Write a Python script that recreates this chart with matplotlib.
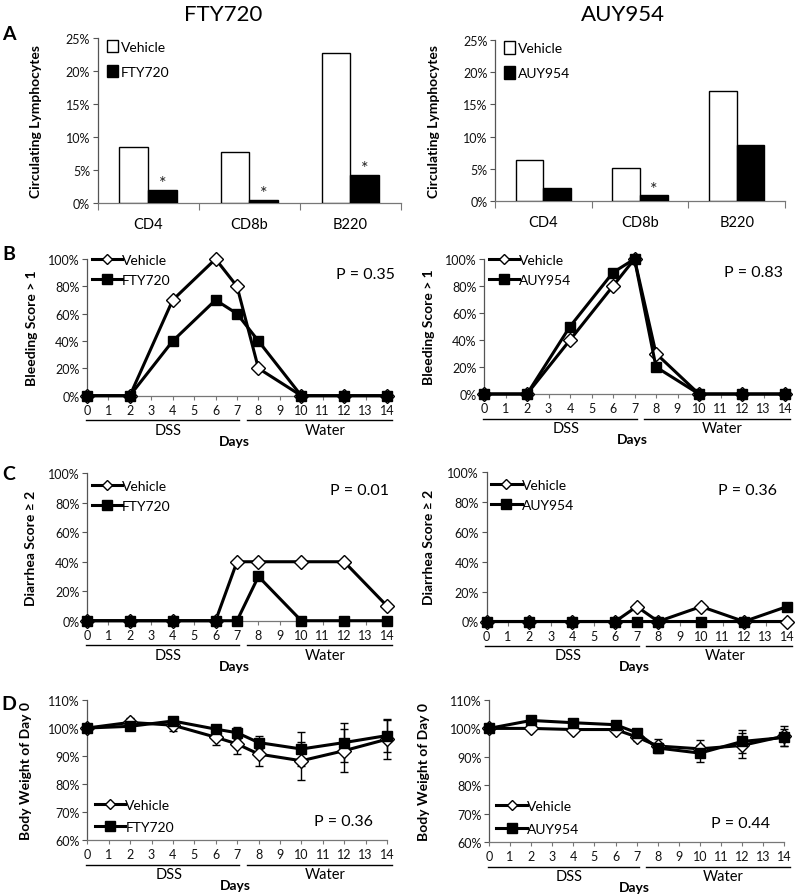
import matplotlib
matplotlib.use('Agg')
import matplotlib.pyplot as plt
from matplotlib.lines import Line2D
from matplotlib.patches import Patch
from matplotlib.ticker import FuncFormatter, FixedLocator
from matplotlib.transforms import blended_transform_factory

plt.rcParams['font.family'] = ['Lato', 'DejaVu Sans']

W, H, DPI = 797, 895, 100

# ---------------- data ----------------
cell_types = ['CD4', 'CD8b', 'B220']
fty_vehicle_lymph = [8.6, 7.8, 22.8]
fty_drug_lymph = [2.0, 0.5, 4.3]
fty_sig = [True, True, True]
auy_vehicle_lymph = [6.4, 5.2, 17.0]
auy_drug_lymph = [2.1, 0.9, 8.7]
auy_sig = [False, True, False]

days = [0, 2, 4, 6, 7, 8, 10, 12, 14]
day_labels = [str(d) for d in range(15)]

fty_bleed_vehicle = [0, 0, 70, 100, 80, 20, 0, 0, 0]
fty_bleed_drug = [0, 0, 40, 70, 60, 40, 0, 0, 0]
auy_bleed_vehicle = [0, 0, 40, 80, 100, 30, 0, 0, 0]
auy_bleed_drug = [0, 0, 50, 90, 100, 20, 0, 0, 0]

fty_diar_vehicle = [0, 0, 0, 0, 40, 40, 40, 40, 10]
fty_diar_drug = [0, 0, 0, 0, 0, 30, 0, 0, 0]
auy_diar_vehicle = [0, 0, 0, 0, 10, 0, 10, 0, 0]
auy_diar_drug = [0, 0, 0, 0, 0, 0, 0, 0, 10]

fty_bw_vehicle = [100, 102, 101, 96.7, 94.3, 90.7, 88.3, 91.9, 96.0]
fty_bw_vehicle_err = [0.8, 1.5, 2.0, 2.7, 3.6, 4.2, 6.8, 7.7, 6.9]
fty_bw_drug = [100, 100.6, 102.5, 99.6, 98.3, 94.8, 92.5, 94.8, 97.3]
fty_bw_drug_err = [0.5, 0.6, 0.6, 1.0, 2.2, 2.4, 6.2, 7.0, 6.0]
auy_bw_vehicle = [100, 100, 99.6, 99.6, 97.0, 93.8, 92.8, 94.0, 97.3]
auy_bw_vehicle_err = [0.5, 0.5, 0.5, 1.0, 1.5, 2.5, 3.0, 4.4, 3.5]
auy_bw_drug = [100, 102.8, 102.0, 101.3, 98.5, 93.1, 91.3, 95.4, 96.8]
auy_bw_drug_err = [0.5, 0.6, 0.6, 0.8, 1.2, 1.5, 3.0, 4.0, 3.0]

p_bleed = ['0.35', '0.83']
p_diar = ['0.01', '0.36']
p_bw = ['0.36', '0.44']
drugs = ['FTY720', 'AUY954']

TICK_FS = 9.0
LAB_FS = 10.0
LEG_FS = 10.0

fig = plt.figure(figsize=(W / DPI, H / DPI), dpi=DPI)


def add_ax(l, t, r, b):
    return fig.add_axes([l / W, 1 - b / H, (r - l) / W, (b - t) / H])


def fx(px):
    return px / W


def fy(py):
    return 1 - py / H


pct = FuncFormatter(lambda v, p: f'{v:.0f}%')


def style_axes(ax):
    for s in ['top', 'right']:
        ax.spines[s].set_visible(False)
    ax.spines['left'].set_color('#555555')
    ax.spines['bottom'].set_color('#777777')
    ax.spines['left'].set_linewidth(0.9)
    ax.spines['bottom'].set_linewidth(0.9)
    ax.yaxis.set_major_formatter(pct)
    ax.tick_params(axis='y', direction='out', length=3.5, width=0.8,
                   labelsize=TICK_FS, colors='#555555', labelcolor='#111111', pad=2)


# ---------------- panel A ----------------
def bar_panel(ax, veh, drug, sig, name, ylab_x_px, left_px, width_px):
    x = list(range(len(cell_types)))
    bw = 0.285
    ax.bar([i - bw / 2 for i in x], veh, width=bw, color='white',
           edgecolor='black', linewidth=1.0, zorder=3)
    ax.bar([i + bw / 2 for i in x], drug, width=bw, color='black',
           edgecolor='black', linewidth=1.0, zorder=3)
    for i, s in enumerate(sig):
        if s:
            ax.text(i + bw / 2, drug[i] - 0.2, '*', ha='center', va='bottom',
                    fontsize=13, color='#222222')
    ax.set_xlim(-0.5, 2.5)
    ax.set_ylim(0, 25)
    ax.set_yticks([0, 5, 10, 15, 20, 25])
    ax.set_xticks(x)
    ax.set_xticklabels(cell_types, fontsize=10.5)
    ax.set_xticks([-0.5, 0.5, 1.5, 2.5], minor=True)
    ax.tick_params(axis='x', which='major', length=0, pad=10)
    ax.tick_params(axis='x', which='minor', length=5, width=0.8, colors='#777777',
                   direction='out')
    style_axes(ax)
    ax.set_ylabel('Circulating Lymphocytes', fontsize=LAB_FS, fontweight='bold')
    ax.yaxis.set_label_coords((ylab_x_px - left_px) / width_px, 0.5)
    handles = [Patch(facecolor='white', edgecolor='black', linewidth=1.0),
               Patch(facecolor='black', edgecolor='black')]
    ax.legend(handles, ['Vehicle', name], loc='upper left',
              bbox_to_anchor=(0.03, 0.99), frameon=False, fontsize=LEG_FS,
              handlelength=0.8, handleheight=1.0, handletextpad=0.2,
              labelspacing=0.85, borderaxespad=0, borderpad=0)


axA1 = add_ax(97.7, 39.3, 401, 204.3)
bar_panel(axA1, fty_vehicle_lymph, fty_drug_lymph, fty_sig, 'FTY720', 42, 97.7, 401 - 97.7)
axA2 = add_ax(495, 40.7, 785, 202.3)
bar_panel(axA2, auy_vehicle_lymph, auy_drug_lymph, auy_sig, 'AUY954', 440, 495, 785 - 495)


# ---------------- line panels ----------------
def line_panel(ax, yv, yd, name, ylim, yticks, ylabel, pval, p_xy_px,
               leg_anchor, leg_spacing, box, ylab_x_px, yv_err=None, yd_err=None):
    l, t, r, b = box
    hpx = b - t
    ekw = dict(ecolor='black', elinewidth=1.0, capsize=3, capthick=1.0)
    if yv_err is not None:
        ax.errorbar(days, yv, yerr=yv_err, fmt='none', zorder=2, clip_on=False, **ekw)
        ax.errorbar(days, yd, yerr=yd_err, fmt='none', zorder=2, clip_on=False, **ekw)
    ax.plot(days, yv, color='black', lw=2.2, marker='D', ms=6.8,
            mfc='white', mec='black', mew=1.0, zorder=4, clip_on=False)
    ax.plot(days, yd, color='black', lw=2.2, marker='s', ms=7.0,
            mfc='black', mec='black', zorder=5, clip_on=False)
    ax.set_xlim(0, 14)
    ax.set_ylim(*ylim)
    ax.set_yticks(yticks)
    ax.xaxis.set_major_locator(FixedLocator(list(range(15))))
    ax.set_xticklabels(day_labels)
    ax.tick_params(axis='x', direction='out', length=3, width=0.8, colors='#777777',
                   labelcolor='#111111', labelsize=TICK_FS, pad=3)
    style_axes(ax)
    ax.set_ylabel(ylabel, fontsize=LAB_FS, fontweight='bold')
    ax.yaxis.set_label_coords((ylab_x_px - l) / (r - l), 0.5)

    # DSS / Water brackets
    tr = blended_transform_factory(ax.transData, ax.transAxes)
    yu = -24.5 / hpx
    ax.plot([-0.05, 7.1], [yu, yu], color='black', lw=1.0, transform=tr, clip_on=False)
    ax.plot([7.45, 14.25], [yu, yu], color='black', lw=1.0, transform=tr, clip_on=False)
    ax.text(3.8, -34 / hpx, 'DSS', transform=tr, ha='center', va='center',
            fontsize=10.5)
    ax.text(11.1, -34 / hpx, 'Water', transform=tr, ha='center', va='center',
            fontsize=10.5)
    ax.text(6.9, -45 / hpx, 'Days', transform=tr, ha='center', va='center',
            fontsize=10, fontweight='bold')

    handles = [Line2D([], [], color='black', lw=2.2, marker='D', ms=5.5,
                      mfc='white', mec='black'),
               Line2D([], [], color='black', lw=2.2, marker='s', ms=7.0,
                      mfc='black', mec='black')]
    ax.legend(handles, ['Vehicle', name], loc='upper left',
              bbox_to_anchor=leg_anchor, frameon=False, fontsize=LEG_FS,
              handlelength=2.2, handletextpad=0.0, labelspacing=leg_spacing,
              borderaxespad=0, borderpad=0)
    fig.text(fx(p_xy_px[0]), fy(p_xy_px[1]), f'P = {pval}', ha='center',
             va='center', fontsize=11.5)


boxes_B = [(87, 260, 387, 396.7), (484, 260, 785, 395)]
boxes_C = [(87, 474.3, 387, 621.7), (486.5, 473, 787, 622.5)]
boxes_D = [(87.3, 701, 387, 841), (489, 701, 784.3, 843)]

bleed = [(fty_bleed_vehicle, fty_bleed_drug), (auy_bleed_vehicle, auy_bleed_drug)]
diar = [(fty_diar_vehicle, fty_diar_drug), (auy_diar_vehicle, auy_diar_drug)]
bw = [(fty_bw_vehicle, fty_bw_drug, fty_bw_vehicle_err, fty_bw_drug_err),
      (auy_bw_vehicle, auy_bw_drug, auy_bw_vehicle_err, auy_bw_drug_err)]

pB = [(365, 275), (753, 273)]
pC = [(359, 491), (747, 491)]
pD = [(344, 822), (741, 824)]
ylabB = [38, 435]
ylabC = [37, 435]
ylabD = [32, 430]

for k in range(2):
    ax = add_ax(*boxes_B[k])
    line_panel(ax, bleed[k][0], bleed[k][1], drugs[k], (0, 100),
               [0, 20, 40, 60, 80, 100], 'Bleeding Score > 1', p_bleed[k],
               pB[k], (0.015, 1.035), 0.55, boxes_B[k], ylabB[k])
    ax = add_ax(*boxes_C[k])
    line_panel(ax, diar[k][0], diar[k][1], drugs[k], (0, 100),
               [0, 20, 40, 60, 80, 100], 'Diarrhea Score \u2265 2', p_diar[k],
               pC[k], (0.015, 0.955), 0.6, boxes_C[k], ylabC[k])
    ax = add_ax(*boxes_D[k])
    line_panel(ax, bw[k][0], bw[k][1], drugs[k], (60, 110),
               [60, 70, 80, 90, 100, 110], 'Body Weight of Day 0', p_bw[k],
               pD[k], (0.025, 0.295), 0.75, boxes_D[k], ylabD[k],
               yv_err=bw[k][2], yd_err=bw[k][3])

# titles and panel letters
fig.text(fx(223), fy(15), 'FTY720', ha='center', va='center', fontsize=16)
fig.text(fx(623), fy(15), 'AUY954', ha='center', va='center', fontsize=16)
for letter, ypx in [('A', 34), ('B', 255), ('C', 475), ('D', 705)]:
    fig.text(fx(9), fy(ypx), letter, ha='center', va='center', fontsize=14,
             fontweight='bold')

fig.savefig('out.png', dpi=DPI)
